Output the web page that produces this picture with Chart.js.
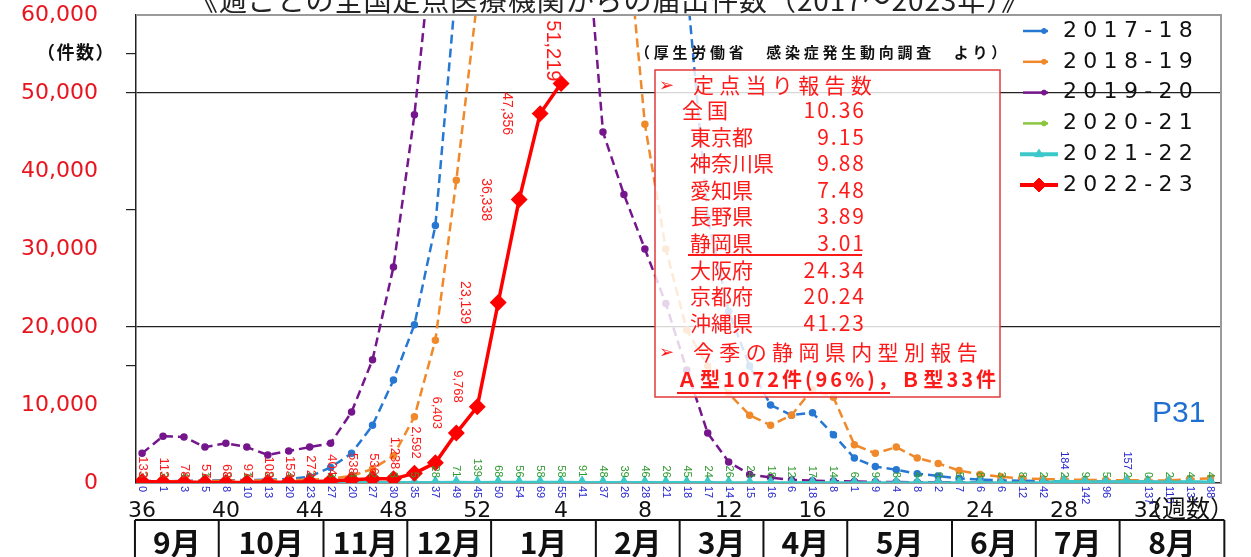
<!DOCTYPE html>
<html lang="ja">
<head>
<meta charset="utf-8">
<title>週ごとの全国定点医療機関からの届出件数</title>
<script src="https://cdn.jsdelivr.net/npm/chart.js@4.4.1/dist/chart.umd.min.js"></script>
<style>
  body { margin: 0; background: #fff; }
  #wrap { width: 1251px; height: 557px; }
</style>
</head>
<body>
<div id="wrap"><canvas id="flu" width="1251" height="557"></canvas></div>
<script>
// week numbers, Sept (36) to end of Aug (35)
const weeks = [36, 37, 38, 39, 40, 41, 42, 43, 44, 45, 46, 47, 48, 49, 50, 51, 52,
  1, 2, 3, 4, 5, 6, 7, 8, 9, 10, 11, 12, 13, 14, 15, 16, 17, 18, 19, 20,
  21, 22, 23, 24, 25, 26, 27, 28, 29, 30, 31, 32, 33, 34, 35];
const weekTicks = [0, 4, 8, 12, 16, 20, 24, 28, 32, 36, 40, 44, 48];

const seasons = ['2017-18', '2018-19', '2019-20', '2020-21', '2021-22', '2022-23'];

const s1718 = [250, 230, 260, 300, 350, 380, 420, 520, 800, 2000, 3800, 7400, 13200, 20300, 33000, 64000, 92000,
  130000, 200000, 260000, 283000, 270000, 220000, 160000, 110000, 85000, 64000, 34000, 22000, 15000, 10000, 8700,
  9000, 6200, 3200, 2100, 1700, 1200, 900, 600, 450, 350, 300, 250, 220, 200, 180, 160, 150, 140, 130, 120];
const s1819 = [200, 220, 240, 260, 280, 300, 320, 360, 420, 550, 900, 1800, 3500, 8500, 18300, 38800, 62000,
  120000, 210000, 270000, 282000, 225000, 130000, 75000, 46000, 30000, 19600, 15000, 11500, 8700, 7400, 8700,
  12000, 11000, 4900, 3800, 4600, 3200, 2500, 1600, 1100, 800, 600, 500, 450, 400, 380, 350, 330, 320, 500, 600];
const s1920 = [3800, 6000, 5900, 4600, 5100, 4600, 3600, 4100, 4600, 5100, 9100, 15800, 27700, 47200, 72800, 95000, 115000,
  100000, 80000, 85000, 75000, 78000, 45000, 37000, 30000, 23000, 14500, 6400, 2700, 1100, 700, 400,
  300, 250, 200, 150, 120, 100, 90, 80, 70, 60, 50, 50, 40, 40, 30, 30, 30, 30, 30, 30];
const s2021 = [3, 2, 4, 1, 3, 1, 2, 4, 2, 3, 4, 2, 3, 5, 28, 71, 139,
  68, 56, 58, 58, 91, 48, 39, 46, 26, 45, 24, 26, 24, 18, 12,
  17, 14, 6, 9, 8, 4, 9, 5, 8, 3, 8, 2, 2, 9, 5, 2, 0, 2, 4, 4];
const s2122 = [0, 1, 3, 5, 8, 10, 13, 20, 23, 27, 20, 27, 30, 35, 37, 49, 45,
  50, 54, 69, 55, 41, 37, 26, 28, 21, 18, 17, 14, 15, 16, 6,
  18, 8, 1, 9, 4, 8, 2, 7, 6, 6, 12, 42, 184, 142, 96, 157, 137, 110, 137, 88];
// current season, reported up to week 4
const s2223 = [183, 133, 113, 78, 57, 68, 97, 108, 153, 272, 404, 538, 536, 1238, 2592, 6403, 9768,
  23139, 36338, 47356, 51219];

const monthNames = ['9月', '10月', '11月', '12月', '1月', '2月', '3月', '4月', '5月', '6月', '7月', '8月'];
const monthStarts = [0, 4, 9, 13, 17, 22, 26, 30, 34, 39, 43, 47, 52];

const gridValues = [20000, 50000];
const tickMarkValues = [15000, 20000, 35000, 50000, 55000];

const reportRows = [
  ['全国', '10.36'], ['東京都', '9.15'], ['神奈川県', '9.88'], ['愛知県', '7.48'], ['長野県', '3.89'],
  ['静岡県', '3.01'], ['大阪府', '24.34'], ['京都府', '20.24'], ['沖縄県', '41.23']
];

const JP = '"Noto Sans CJK JP", sans-serif';

function toPoints(arr) {
  return weeks.map((w, i) => ({ x: i, y: arr[i] ?? null }));
}

function spaced(c, text, x, y, width) {
  c.letterSpacing = '0px';
  const w = c.measureText(text).width;
  const n = [...text].length;
  c.letterSpacing = Math.max(0, (width - w) / n) + 'px';
  c.fillText(text, x, y);
  c.letterSpacing = '0px';
}

function vText(c, text, x, y, align) {
  c.save();
  c.translate(x, y);
  c.rotate(Math.PI / 2);
  c.textAlign = align;
  c.textBaseline = 'middle';
  c.fillText(text, 0, 0);
  c.restore();
}

const overlay = {
  id: 'overlay',
  afterDatasetsDraw(chart) {
    const c = chart.ctx;
    const area = chart.chartArea;
    c.save();

    // green labels (2020-21)
    c.font = '11px "Liberation Sans"';
    c.fillStyle = '#2f9a2f';
    chart.getDatasetMeta(3).data.forEach((p, i) => {
      vText(c, String(s2021[i]), p.x, p.y - 5, 'right');
    });

    // blue labels (2021-22)
    c.fillStyle = '#2525d0';
    chart.getDatasetMeta(4).data.forEach((p, i) => {
      const v = s2122[i];
      if (v > 150) vText(c, String(v), p.x, p.y - 12, 'right');
      else vText(c, String(v), p.x, area.bottom + 3, 'left');
    });

    // red labels (2022-23)
    c.fillStyle = '#ff1a1a';
    chart.getDatasetMeta(5).data.forEach((p, i) => {
      const v = s2223[i];
      if (v == null) return;
      const txt = v.toLocaleString('en-US');
      if (v >= 50000) {
        c.font = '20px "Liberation Sans"';
        vText(c, txt, p.x - 9, p.y - 2, 'right');
      } else if (v >= 20000) {
        c.font = '14px "Liberation Sans"';
        vText(c, txt, p.x - 33, p.y, 'center');
      } else {
        c.font = '13px "Liberation Sans"';
        if (p.x - 20 < area.left + 3) return;
        vText(c, txt, p.x - 20, p.y - 4, 'right');
      }
    });
    c.restore();
  },
  afterDraw(chart) {
    const c = chart.ctx;
    const area = chart.chartArea;
    const xs = chart.scales.x;
    c.save();

    // plot frame
    c.strokeStyle = '#9a9a9a';
    c.lineWidth = 2;
    c.beginPath();
    c.moveTo(area.left, area.top);
    c.lineTo(area.right, area.top);
    c.lineTo(area.right, area.bottom);
    c.stroke();

    // title (cut by the top edge)
    c.fillStyle = '#222';
    c.font = '28px ' + JP;
    c.textBaseline = 'middle';
    c.textAlign = 'left';
    spaced(c, '《週ごとの全国定点医療機関からの届出件数（2017～2023年）》', 190, 0, 840);

    c.font = 'bold 15px ' + JP;
    c.fillStyle = '#111';
    spaced(c, '（厚生労働省　感染症発生動向調査　より）', 635, 52, 375);

    c.font = 'bold 18px ' + JP;
    spaced(c, '（件数）', 37, 52, 78);

    // report box
    c.fillStyle = 'rgba(255,255,255,0.82)';
    c.fillRect(655, 70, 345, 327);
    c.strokeStyle = '#e23a3a';
    c.lineWidth = 1.5;
    c.strokeRect(655, 70, 345, 327);

    c.fillStyle = '#ff1a1a';
    c.font = '18px "DejaVu Sans"';
    c.fillText('➢', 659, 86);
    c.fillText('➢', 659, 353);
    c.font = '21px ' + JP;
    spaced(c, '定点当り報告数', 693, 85, 184);
    reportRows.forEach((r, i) => {
      const y = 110 + i * 26.6;
      c.textAlign = 'left';
      if (i === 0) spaced(c, r[0], 682, y, 50);
      else c.fillText(r[0], 690, y);
      c.textAlign = 'right';
      c.letterSpacing = '2px';
      c.fillText(r[1], 866, y);
      c.letterSpacing = '0px';
    });
    c.textAlign = 'left';
    spaced(c, '今季の静岡県内型別報告', 693, 352, 290);
    c.font = 'bold 20px ' + JP;
    spaced(c, 'Ａ型1072件(96%)，Ｂ型33件', 677, 379, 322);
    c.strokeStyle = '#ff1a1a';
    c.lineWidth = 2;
    c.beginPath();
    c.moveTo(688, 255); c.lineTo(862, 255);
    c.moveTo(677, 393); c.lineTo(890, 393);
    c.stroke();

    // P31
    c.fillStyle = '#1f6fd0';
    c.font = '30px "Liberation Sans"';
    c.fillText('P31', 1152, 414);

    // 週数
    c.fillStyle = '#111';
    c.font = '24px ' + JP;
    c.fillText('（週数）', 1138, 508);

    // legend
    chart.data.datasets.forEach((ds, i) => {
      const y = 31 + i * 30.8;
      const wide = ds.pointStyle !== 'circle';
      const x0 = wide ? 1020 : 1023;
      const x1 = wide ? 1058 : 1048;
      c.strokeStyle = ds.borderColor;
      c.fillStyle = ds.borderColor;
      c.lineWidth = wide ? 4 : 2.5;
      c.beginPath();
      c.moveTo(x0, y);
      c.lineTo(x1, y);
      c.stroke();
      c.lineWidth = 1;
      Chart.helpers.drawPoint(c, {
        pointStyle: ds.pointStyle, radius: wide ? ds.pointRadius + 1 : 2.5, rotation: 0, borderWidth: 1
      }, wide ? (x0 + x1) / 2 : x1 - 4, y);
      c.fillStyle = '#111';
      c.font = '22px "DejaVu Sans"';
      c.textAlign = 'left';
      c.textBaseline = 'middle';
      spaced(c, ds.label, 1063, y, 136);
    });

    // month table
    const top = 520;
    c.strokeStyle = '#111';
    c.lineWidth = 2;
    c.fillStyle = '#111';
    c.font = 'bold 30px ' + JP;
    c.textAlign = 'center';
    c.textBaseline = 'middle';
    const edges = monthStarts.map(m => xs.getPixelForValue(m - 0.34));
    c.beginPath();
    c.moveTo(edges[0], top);
    c.lineTo(edges[edges.length - 1], top);
    edges.forEach(x => { c.moveTo(x, top); c.lineTo(x, 570); });
    c.stroke();
    monthNames.forEach((m, i) => {
      c.fillText(m, (edges[i] + edges[i + 1]) / 2, 543);
    });

    c.restore();
  }
};

const ctx = document.getElementById('flu').getContext('2d');
new Chart(ctx, {
  type: 'line',
  data: {
    datasets: [
      {
        label: seasons[0], data: toPoints(s1718), borderColor: '#2778d2', backgroundColor: '#2778d2',
        borderWidth: 2.5, borderDash: [9, 5], pointStyle: 'circle', pointRadius: 2.5, order: 5
      },
      {
        label: seasons[1], data: toPoints(s1819), borderColor: '#f0892a', backgroundColor: '#f0892a',
        borderWidth: 2.5, borderDash: [9, 5], pointStyle: 'circle', pointRadius: 2.5, order: 4
      },
      {
        label: seasons[2], data: toPoints(s1920), borderColor: '#75168c', backgroundColor: '#75168c',
        borderWidth: 2.5, borderDash: [9, 5], pointStyle: 'circle', pointRadius: 2.5, order: 3
      },
      {
        label: seasons[3], data: toPoints(s2021), borderColor: '#8cc63f', backgroundColor: '#8cc63f',
        borderWidth: 2, pointStyle: 'circle', pointRadius: 2, order: 2
      },
      {
        label: seasons[4], data: toPoints(s2122), borderColor: '#3cc8c8', backgroundColor: '#3cc8c8',
        borderWidth: 3.5, pointStyle: 'triangle', pointRadius: 4, order: 1
      },
      {
        label: seasons[5], data: toPoints(s2223), borderColor: '#ff0000', backgroundColor: '#ff0000',
        borderWidth: 3.5, pointStyle: 'rectRot', pointRadius: 6, order: 0
      }
    ]
  },
  options: {
    responsive: false,
    animation: false,
    events: [],
    layout: { padding: { top: 15, right: 30, left: 0, bottom: 0 } },
    plugins: { legend: { display: false }, tooltip: { enabled: false } },
    scales: {
      x: {
        type: 'linear',
        min: -0.29,
        max: 51.5,
        afterBuildTicks: axis => { axis.ticks = weekTicks.map(v => ({ value: v })); },
        afterFit: axis => {
          axis.height = 74;
          axis.paddingLeft = 0;
          axis.paddingRight = 0;
        },
        grid: { display: false },
        border: { color: '#333', width: 1.5 },
        ticks: {
          padding: 7,
          maxRotation: 0,
          color: '#111',
          font: { family: 'DejaVu Sans', size: 22 },
          callback: v => weeks[v]
        }
      },
      y: {
        min: 0,
        max: 60000,
        afterFit: axis => {
          axis.width = 136;
          axis.paddingTop = 0;
          axis.paddingBottom = 0;
        },
        border: { color: '#222', width: 1.5 },
        grid: {
          color: c => gridValues.includes(c.tick.value) ? '#222' : 'rgba(0,0,0,0)',
          tickColor: c => tickMarkValues.includes(c.tick.value) ? '#222' : 'rgba(0,0,0,0)',
          lineWidth: 1.2,
          tickLength: 10
        },
        ticks: {
          stepSize: 5000,
          padding: 28,
          color: '#e8141e',
          font: { family: 'DejaVu Sans', size: 22 },
          callback: v => v % 10000 === 0 ? v.toLocaleString('en-US') : ''
        }
      }
    }
  },
  plugins: [overlay]
});
</script>
</body>
</html>
